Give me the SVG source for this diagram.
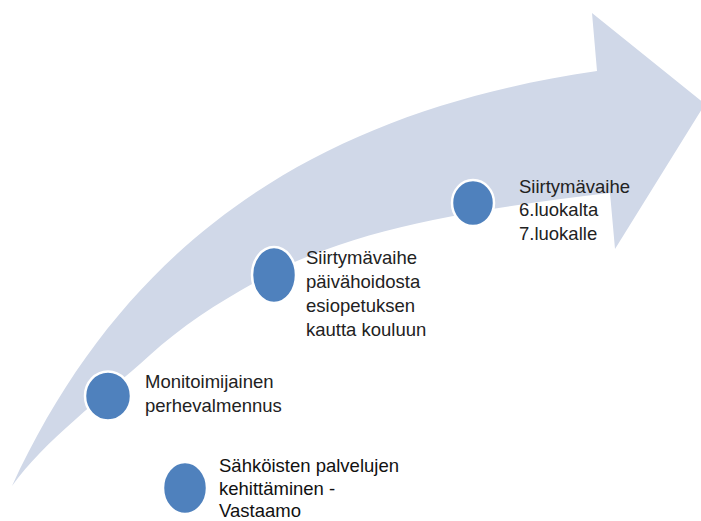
<svg xmlns="http://www.w3.org/2000/svg" width="701" height="521" viewBox="0 0 701 521">
<style>
.dot{fill:#4F81BD;stroke:#FFFFFF;stroke-width:2.5}
.lbl{font-family:"Liberation Sans",Arial,sans-serif;font-size:18.5px;fill:#222222}
.dark{fill:#111111}
</style>
<rect width="701" height="521" fill="#FFFFFF"/>
<g id="arrow">
<path d="M12,486 C130,230 330,110 597,71 L592,13 L705,104 L615,249 L610,193 C550,200 490,208 433,220 C376,232 320,248 274,272 C228,296 185,323 150,355 C100,400 45,440 12,486 Z" fill="#D0D8E8"/>
</g>
<g id="connectors"></g>
<g id="node-monitoimijainen">
<ellipse class="dot" cx="108" cy="396" rx="23" ry="24.5"/>
<text class="lbl" x="145" y="388">Monitoimijainen</text>
<text class="lbl" x="145" y="412">perhevalmennus</text>
</g>
<g id="node-paivahoito">
<ellipse class="dot" cx="274" cy="275" rx="22" ry="28"/>
<text class="lbl" x="306" y="264">Siirtymävaihe</text>
<text class="lbl" x="306" y="288">päivähoidosta</text>
<text class="lbl" x="306" y="312">esiopetuksen</text>
<text class="lbl" x="306" y="336">kautta kouluun</text>
</g>
<g id="node-luokka">
<ellipse class="dot" cx="473" cy="203" rx="21" ry="23"/>
<text class="lbl" x="519" y="193">Siirtymävaihe</text>
<text class="lbl" x="519" y="216">6.luokalta</text>
<text class="lbl" x="519" y="240">7.luokalle</text>
</g>
<g id="node-vastaamo">
<ellipse class="dot" cx="185" cy="488" rx="22" ry="26"/>
<text class="lbl dark" x="219" y="472">Sähköisten palvelujen</text>
<text class="lbl dark" x="219" y="495">kehittäminen -</text>
<text class="lbl dark" x="219" y="517">Vastaamo</text>
</g>
</svg>
